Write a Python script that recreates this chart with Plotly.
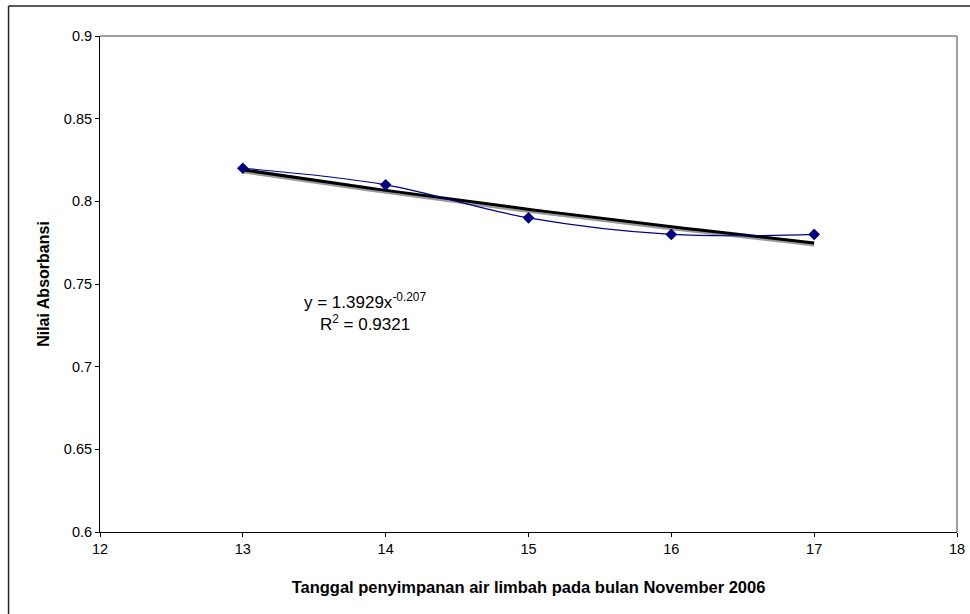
import numpy as np
import plotly.graph_objects as go

# Data
tanggal = [13, 14, 15, 16, 17]
absorbansi = [0.82, 0.81, 0.79, 0.78, 0.78]

# Power trendline coefficients (as displayed)
coef_a = 1.3929
coef_b = -0.207
r_squared = 0.9321

x_ticks = [12, 13, 14, 15, 16, 17, 18]
y_ticks = [0.6, 0.65, 0.7, 0.75, 0.8, 0.85, 0.9]

trend_x = np.linspace(min(tanggal), max(tanggal), 60)
trend_y = coef_a * trend_x ** coef_b

FONT = "Liberation Sans, Arial, sans-serif"

fig = go.Figure()
# soft shadow under the trendline (Excel-style)
fig.add_trace(go.Scatter(
    x=trend_x, y=trend_y - 0.0012, mode="lines",
    line=dict(color="#9a9a9a", width=3),
    hoverinfo="skip", showlegend=False,
))
fig.add_trace(go.Scatter(
    x=trend_x, y=trend_y, mode="lines",
    line=dict(color="#000000", width=3),
    hoverinfo="skip", showlegend=False,
))
fig.add_trace(go.Scatter(
    x=tanggal, y=absorbansi, mode="lines+markers",
    line=dict(color="#000080", width=1.2, shape="spline", smoothing=1),
    marker=dict(symbol="diamond", size=9, color="#000080"),
    showlegend=False,
))

fig.update_layout(
    width=970, height=614,
    margin=dict(l=99.5, r=13, t=36, b=82, autoexpand=False),
    paper_bgcolor="white", plot_bgcolor="white",
    font=dict(family=FONT, size=14, color="#000000"),
    xaxis=dict(
        range=[12, 18], tickvals=x_ticks, ticktext=[str(v) for v in x_ticks],
        showgrid=False, zeroline=False, automargin=False,
        showline=True, linecolor="#000000", linewidth=1,
        ticks="outside", ticklen=4, tickcolor="#000000",
        title=dict(text="<b>Tanggal penyimpanan air limbah pada bulan November 2006</b>",
                   font=dict(size=16.5), standoff=25),
        tickfont=dict(size=14.5),
    ),
    yaxis=dict(
        range=[0.6, 0.9], tickvals=y_ticks, ticktext=[f"{v:g}" for v in y_ticks],
        showgrid=False, zeroline=False, automargin=False,
        showline=True, linecolor="#000000", linewidth=1,
        ticks="outside", ticklen=4, tickcolor="#000000",
        title=dict(text="<b>Nilai Absorbansi</b>", font=dict(size=16), standoff=10),
        tickfont=dict(size=14.5),
    ),
    annotations=[dict(
        x=13.857, y=0.733, xref="x", yref="y",
        text=f"y = {coef_a}x<sup>{coef_b}</sup><br>R<sup>2</sup> = {r_squared}",
        showarrow=False, align="center",
        font=dict(size=17, family=FONT, color="#000000"),
    )],
    shapes=[
        # plot area top/right border (gray)
        dict(type="line", xref="paper", yref="paper", x0=0, x1=1, y0=1, y1=1,
             line=dict(color="#808080", width=1.5)),
        dict(type="line", xref="paper", yref="paper", x0=1, x1=1, y0=0, y1=1,
             line=dict(color="#808080", width=1.5)),
        # outer chart border (top & left visible)
        dict(type="line", xref="paper", yref="paper", x0=-0.1067, x1=1.2,
             y0=1.0605, y1=1.0605, line=dict(color="#222222", width=1.5)),
        dict(type="line", xref="paper", yref="paper", x0=-0.1067, x1=-0.1067,
             y0=-0.3, y1=1.0605, line=dict(color="#222222", width=1.5)),
    ],
)

fig.write_html("out.html", config={"displayModeBar": False},
               post_script="document.body.style.margin='0';document.body.style.overflow='hidden';")
